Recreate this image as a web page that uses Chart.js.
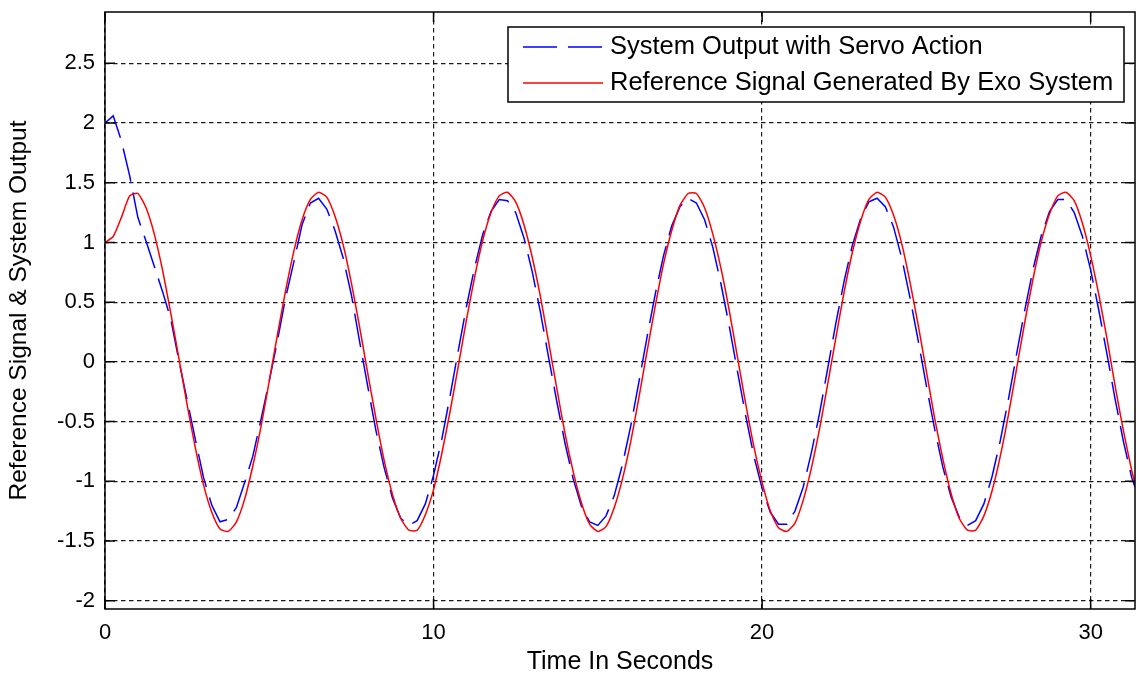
<!DOCTYPE html>
<html lang="en">
<head>
    <meta charset="UTF-8">
    <title>Reference Signal &amp; System Output</title>
    <script src="https://cdn.jsdelivr.net/npm/chart.js"></script>
    <style>
        body { margin: 0; background: #fff; }
        #wrap { width: 1136px; height: 678px; }
    </style>
</head>
<body>
    <div id="wrap"><canvas id="servoChart" width="1136" height="678"></canvas></div>

    <script>
        // sample times (s), 4 per row
        const timeSeconds = [
            0, 0.25, 0.5, 0.75,   1, 1.25, 1.5, 1.75,   2, 2.25, 2.5, 2.75,   3, 3.25, 3.5, 3.75,
            4, 4.25, 4.5, 4.75,   5, 5.25, 5.5, 5.75,   6, 6.25, 6.5, 6.75,   7, 7.25, 7.5, 7.75,
            8, 8.25, 8.5, 8.75,   9, 9.25, 9.5, 9.75,   10, 10.25, 10.5, 10.75,   11, 11.25, 11.5, 11.75,
            12, 12.25, 12.5, 12.75,   13, 13.25, 13.5, 13.75,   14, 14.25, 14.5, 14.75,   15, 15.25, 15.5, 15.75,
            16, 16.25, 16.5, 16.75,   17, 17.25, 17.5, 17.75,   18, 18.25, 18.5, 18.75,   19, 19.25, 19.5, 19.75,
            20, 20.25, 20.5, 20.75,   21, 21.25, 21.5, 21.75,   22, 22.25, 22.5, 22.75,   23, 23.25, 23.5, 23.75,
            24, 24.25, 24.5, 24.75,   25, 25.25, 25.5, 25.75,   26, 26.25, 26.5, 26.75,   27, 27.25, 27.5, 27.75,
            28, 28.25, 28.5, 28.75,   29, 29.25, 29.5, 29.75,   30, 30.25, 30.5, 30.75,   31, 31.25, 31.35
        ];

        const systemOutput = [
            2.00, 2.06, 1.85, 1.56,   1.21, 1.01, 0.80, 0.59,   0.36, 0.01, -0.32, -0.65,   -0.97, -1.20, -1.34, -1.32,
            -1.22, -1.01, -0.79, -0.48,   -0.16, 0.18, 0.54, 0.84,   1.15, 1.33, 1.37, 1.28,   1.10, 0.87, 0.56, 0.17,
            -0.21, -0.58, -0.89, -1.14,   -1.31, -1.37, -1.33, -1.19,   -0.95, -0.65, -0.29, 0.09,   0.46, 0.79, 1.07, 1.26,
            1.36, 1.35, 1.25, 1.04,   0.76, 0.42, 0.04, -0.33,   -0.68, -0.98, -1.21, -1.34,   -1.37, -1.29, -1.12, -0.86,
            -0.54, -0.17, 0.21, 0.57,   0.89, 1.14, 1.30, 1.37,   1.33, 1.19, 0.96, 0.65,   0.30, -0.08, -0.45, -0.79,
            -1.06, -1.26, -1.36, -1.36,   -1.25, -1.05, -0.76, -0.43,   -0.05, 0.33, 0.68, 0.98,   1.20, 1.34, 1.37, 1.30,
            1.13, 0.87, 0.54, 0.18,   -0.20, -0.56, -0.88, -1.13,   -1.30, -1.37, -1.33, -1.19,   -0.96, -0.66, -0.31, 0.07,
            0.44, 0.78, 1.06, 1.26,   1.36, 1.36, 1.25, 1.05,   0.77, 0.43, 0.06, -0.32,   -0.67, -0.97, -1.05
        ];

        const referenceSignal = [
            1.00, 1.05, 1.21, 1.39,   1.41, 1.29, 1.07, 0.77,   0.41, 0.03, -0.36, -0.72,   -1.03, -1.26, -1.40, -1.42,
            -1.34, -1.15, -0.87, -0.54,   -0.16, 0.23, 0.60, 0.93,   1.19, 1.36, 1.42, 1.38,   1.22, 0.98, 0.66, 0.29,
            -0.10, -0.48, -0.83, -1.11,   -1.31, -1.41, -1.41, -1.28,   -1.07, -0.77, -0.42, -0.04,   0.35, 0.71, 1.02, 1.25,
            1.39, 1.42, 1.34, 1.15,   0.88, 0.55, 0.17, -0.22,   -0.60, -0.92, -1.18, -1.36,   -1.42, -1.38, -1.22, -0.98,
            -0.67, -0.30, 0.09, 0.47,   0.82, 1.10, 1.31, 1.41,   1.41, 1.29, 1.07, 0.78,   0.43, 0.04, -0.35, -0.71,
            -1.01, -1.25, -1.39, -1.42,   -1.35, -1.16, -0.89, -0.56,   -0.18, 0.21, 0.59, 0.92,   1.18, 1.36, 1.42, 1.38,
            1.23, 0.99, 0.67, 0.31,   -0.08, -0.47, -0.81, -1.10,   -1.31, -1.41, -1.41, -1.29,   -1.08, -0.79, -0.44, -0.05,
            0.34, 0.70, 1.01, 1.24,   1.39, 1.42, 1.35, 1.16,   0.89, 0.56, 0.19, -0.21,   -0.58, -0.91, -1.02
        ];

        const seriesLabels = ['System Output with Servo Action', 'Reference Signal Generated By Exo System'];
        const xTickValues = [0, 10, 20, 30];
        const yTickValues = [-2, -1.5, -1, -0.5, 0, 0.5, 1, 1.5, 2, 2.5];

        const FONT = '"Liberation Sans", Arial, sans-serif';

        // axes box with inward ticks on all four sides (matlab style)
        const framePlugin = {
            id: 'frame',
            afterDatasetsDraw(chart) {
                const { ctx, chartArea: a, scales } = chart;
                const len = 10;
                ctx.save();
                ctx.strokeStyle = '#000';
                ctx.lineWidth = 1.5;
                ctx.setLineDash([]);
                ctx.beginPath();
                xTickValues.forEach(v => {
                    const x = scales.x.getPixelForValue(v);
                    ctx.moveTo(x, a.bottom); ctx.lineTo(x, a.bottom - len);
                    ctx.moveTo(x, a.top); ctx.lineTo(x, a.top + len);
                });
                yTickValues.forEach(v => {
                    const y = scales.y.getPixelForValue(v);
                    ctx.moveTo(a.left, y); ctx.lineTo(a.left + len, y);
                    ctx.moveTo(a.right, y); ctx.lineTo(a.right - len, y);
                });
                ctx.stroke();
                ctx.strokeRect(a.left, a.top, a.right - a.left, a.bottom - a.top);
                ctx.restore();
            }
        };

        // boxed legend in the top right of the plot
        const boxLegendPlugin = {
            id: 'boxLegend',
            afterDraw(chart) {
                const ctx = chart.ctx;
                const a = chart.chartArea;
                const box = { left: a.right - 627, top: a.top + 15, w: 616, h: 75 };
                ctx.save();
                ctx.fillStyle = '#fff';
                ctx.fillRect(box.left, box.top, box.w, box.h);
                ctx.strokeStyle = '#000';
                ctx.lineWidth = 1.5;
                ctx.strokeRect(box.left, box.top, box.w, box.h);
                ctx.font = '25.5px ' + FONT;
                ctx.textBaseline = 'middle';
                ctx.textAlign = 'left';
                chart.data.datasets.forEach((ds, i) => {
                    const y = box.top + 20 + i * 36;
                    ctx.strokeStyle = ds.borderColor;
                    ctx.lineWidth = ds.borderWidth;
                    ctx.setLineDash(ds.borderDash || []);
                    ctx.beginPath();
                    ctx.moveTo(box.left + 15, y);
                    ctx.lineTo(box.left + 95, y);
                    ctx.stroke();
                    ctx.fillStyle = '#000';
                    ctx.fillText(ds.label, box.left + 102, y);
                });
                ctx.restore();
            }
        };

        // fixed axis sizes so the plot box lands where the reference has it
        function fixHeight(s) { s.height = 69; s.paddingLeft = 0; s.paddingRight = 0; }
        function fixWidth(s) { s.width = 105; s.paddingTop = 0; s.paddingBottom = 0; }

        const gridStyle = { color: '#1a1a1a', lineWidth: 1.2, drawTicks: false };

        const ctx = document.getElementById('servoChart').getContext('2d');
        const servoChart = new Chart(ctx, {
            type: 'line',
            data: {
                datasets: [
                    {
                        label: seriesLabels[0],
                        data: timeSeconds.map((t, i) => ({ x: t, y: systemOutput[i] })),
                        borderColor: '#0000ff',
                        borderWidth: 1.5,
                        borderDash: [34, 11],
                        pointRadius: 0,
                        tension: 0,
                        order: 1
                    },
                    {
                        label: seriesLabels[1],
                        data: timeSeconds.map((t, i) => ({ x: t, y: referenceSignal[i] })),
                        borderColor: '#ff0000',
                        borderWidth: 1.5,
                        pointRadius: 0,
                        tension: 0.2,
                        order: 0
                    }
                ]
            },
            options: {
                responsive: false,
                animation: false,
                layout: { padding: { top: 12, right: 1, left: 0, bottom: 0 } },
                plugins: {
                    legend: { display: false },
                    tooltip: { enabled: false }
                },
                scales: {
                    x: {
                        type: 'linear',
                        min: 0,
                        max: 31.35,
                        afterBuildTicks: s => { s.ticks = xTickValues.map(v => ({ value: v })); },
                        afterFit: fixHeight,
                        grid: gridStyle,
                        border: { display: false, dash: [4.5, 3.5] },
                        ticks: { padding: 11, color: '#000', font: { family: FONT, size: 22 }, maxRotation: 0 },
                        title: {
                            display: true,
                            text: 'Time In Seconds',
                            color: '#000',
                            font: { family: FONT, size: 25 },
                            padding: { top: 0, bottom: 1 }
                        }
                    },
                    y: {
                        min: -2.07,
                        max: 2.93,
                        afterBuildTicks: s => { s.ticks = yTickValues.map(v => ({ value: v })); },
                        afterFit: fixWidth,
                        grid: gridStyle,
                        border: { display: false, dash: [4.5, 3.5] },
                        ticks: {
                            padding: 10,
                            color: '#000',
                            font: { family: FONT, size: 22 },
                            callback: v => String(v)
                        },
                        title: {
                            display: true,
                            text: 'Reference Signal & System Output',
                            color: '#000',
                            font: { family: FONT, size: 24.5 },
                            padding: { top: 5, bottom: 0 }
                        }
                    }
                }
            },
            plugins: [framePlugin, boxLegendPlugin]
        });
    </script>
</body>
</html>
